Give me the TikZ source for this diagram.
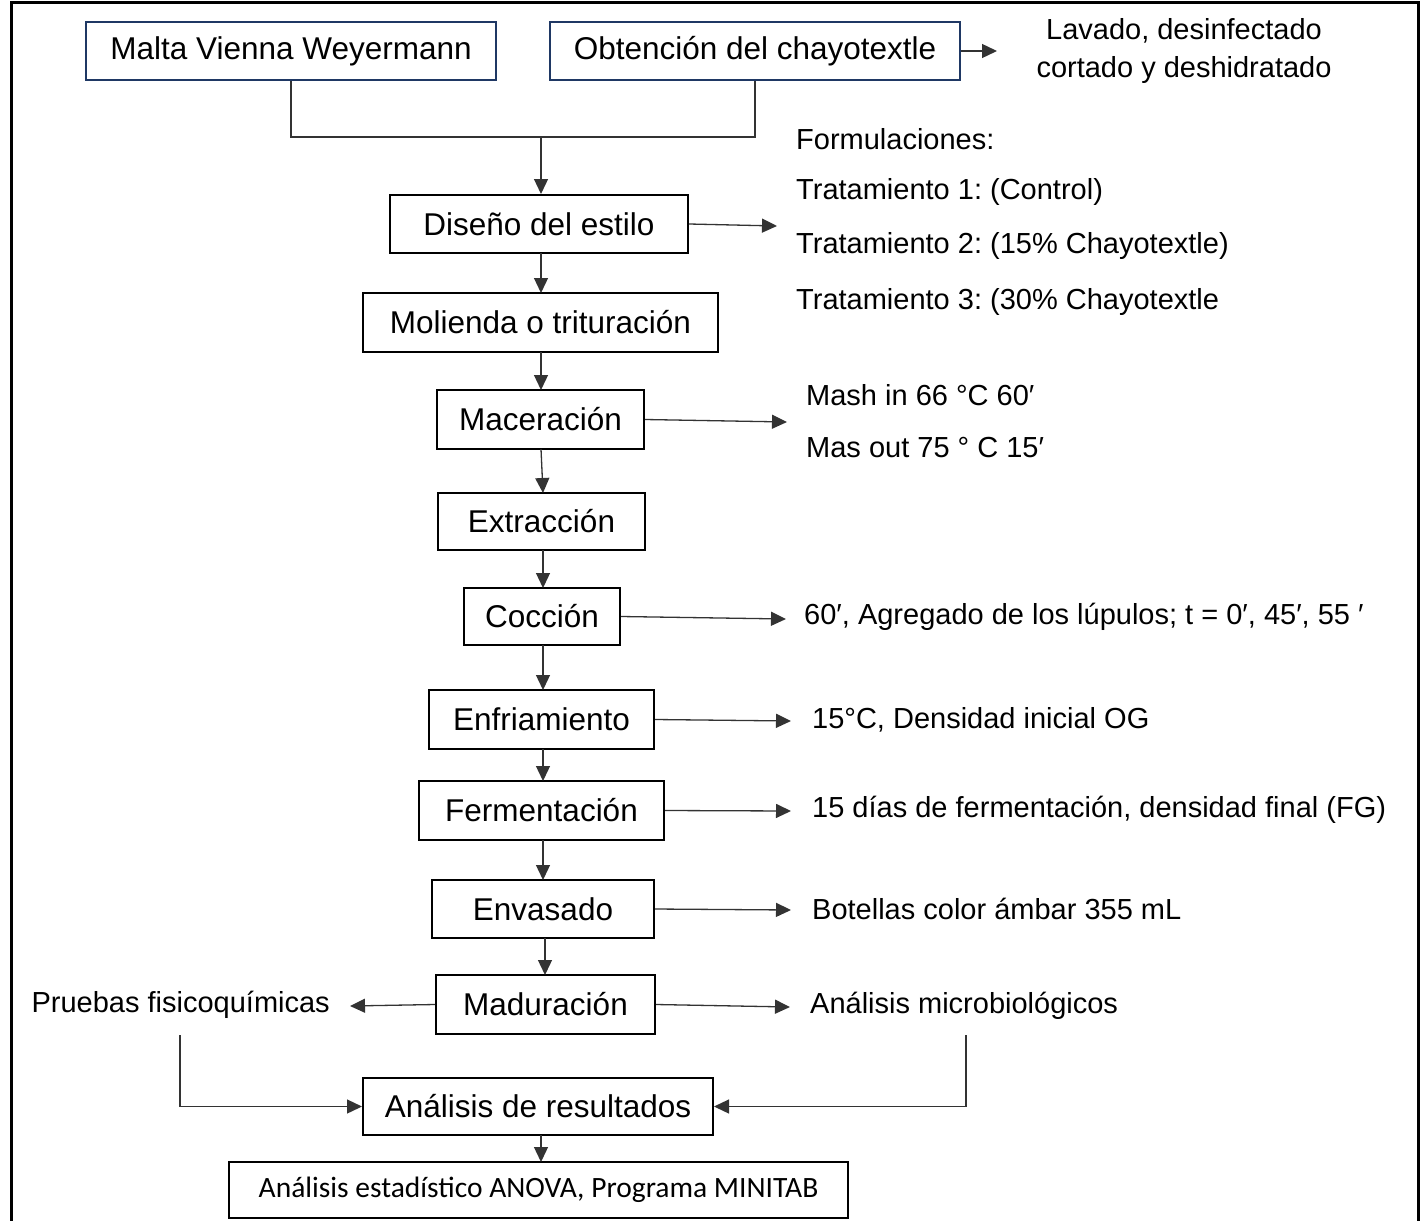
\documentclass[tikz,border=0pt]{standalone}
\usepackage{fontspec}
\setmainfont{Liberation Sans}
\newfontfamily\calfont{Carlito}
\usetikzlibrary{arrows.meta}
\definecolor{navy}{HTML}{1F3864}
\frenchspacing
\tikzset{
  box/.style={draw=black, line width=2pt, fill=white, inner sep=0pt, font=\fontsize{31.5}{38}\selectfont},
  topbox/.style={box, draw=navy},
  lbl/.style={inner sep=0pt, anchor=west, font=\fontsize{29}{38}\selectfont},
  conn/.style={line width=1.3pt, draw=black!80},
  arr/.style={conn, -{Triangle[length=15pt,width=14pt]}},
}
\begin{document}
\begin{tikzpicture}[x=1pt,y=-1pt]
\useasboundingbox (0,0) rectangle (1423,1220);
% frame
\draw[line width=3pt] (11,1230) -- (11,3) -- (1418,3) -- (1418,1230);

% boxes
\node[topbox, minimum width=410pt, minimum height=58pt] (malta) at (291,51) {Malta Vienna Weyermann};
\node[topbox, minimum width=410pt, minimum height=58pt] (obt) at (755,51) {Obtención del chayotextle};
\node[box, minimum width=298pt, minimum height=58pt] (dis) at (539,224) {Diseño del estilo};
\node[box, minimum width=355pt, minimum height=59pt] (mol) at (540.5,322.5) {Molienda o trituración};
\node[box, minimum width=207pt, minimum height=59pt] (mac) at (540.5,419.5) {Maceración};
\node[box, minimum width=207pt, minimum height=57pt] (ext) at (541.5,521.5) {Extracción};
\node[box, minimum width=156pt, minimum height=57pt] (coc) at (542,616.5) {Cocción};
\node[box, minimum width=225pt, minimum height=59pt] (enf) at (541.5,719.5) {Enfriamiento};
\node[box, minimum width=245pt, minimum height=59pt] (fer) at (541.5,810.5) {Fermentación};
\node[box, minimum width=222pt, minimum height=58pt] (env) at (543,909) {Envasado};
\node[box, minimum width=219pt, minimum height=59pt] (mad) at (545.5,1004.5) {Maduración};
\node[box, minimum width=350pt, minimum height=57pt] (res) at (538,1106.5) {Análisis de resultados};
\node[box, minimum width=619pt, minimum height=56pt, font=\calfont\fontsize{29.5}{34}\selectfont] (anova) at (538.5,1190) {Análisis estadístico ANOVA, Programa MINITAB};

% side texts
\node[align=center, inner sep=0pt, font=\fontsize{29}{38}\selectfont] (lav) at (1184,51) {Lavado, desinfectado\\cortado y deshidratado};
\node[lbl] (form) at (796,139) {Formulaciones:};
\node[lbl] (t1) at (796,192) {Tratamiento 1: (Control)};
\node[lbl] (t2) at (796,246) {Tratamiento 2: (15\% Chayotextle)};
\node[lbl] (t3) at (796,302) {Tratamiento 3: (30\% Chayotextle};
\node[lbl] (mash1) at (806,395) {Mash in 66 °C 60′};
\node[lbl] (mash2) at (806,448) {Mas out 75 ° C 15′};
\node[lbl] (cocl) at (804,617) {60′, Agregado de los lúpulos; t = 0′, 45′, 55 ′};
\node[lbl] (enfl) at (812,720) {15°C, Densidad inicial OG};
\node[lbl] (ferl) at (812,810) {15 días de fermentación, densidad final (FG)};
\node[lbl] (envl) at (812,909) {Botellas color ámbar 355 mL};
\node[lbl, anchor=east] (pru) at (330,1005) {Pruebas fisicoquímicas};
\node[lbl] (mic) at (810,1006) {Análisis microbiológicos};

% free ends
\coordinate (obtE) at (997,51);
\coordinate (disE) at (777,226);
\coordinate (macE) at (787,422);
\coordinate (cocE) at (786,619);
\coordinate (enfE) at (791,721);
\coordinate (ferE) at (791,811);
\coordinate (envE) at (791,910);
\coordinate (madW) at (350,1006);
\coordinate (madE) at (790,1007);
\coordinate (join) at (541,137);

% connectors
\draw[conn] (malta.south) |- (join) -| (obt.south);
\draw[arr] (join) -- (join |- dis.north);
\draw[arr] (obt.east) -- (obtE);
\draw[arr] (dis.east) -- (disE);
\draw[arr] (541,253) -- (541,293);
\draw[arr] (541,352) -- (541,390);
\draw[arr] (541,449) -- (543,493);
\draw[arr] (543,550) -- (543,588);
\draw[arr] (543,645) -- (543,690);
\draw[arr] (543,749) -- (543,781);
\draw[arr] (543,840) -- (543,880);
\draw[arr] (545,938) -- (545,975);
\draw[arr] (mac.east) -- (macE);
\draw[arr] (coc.east) -- (cocE);
\draw[arr] (enf.east) -- (enfE);
\draw[arr] (fer.east) -- (ferE);
\draw[arr] (env.east) -- (envE);
\draw[arr] (mad.west) -- (madW);
\draw[arr] (mad.east) -- (madE);
\draw[arr] (180,1035) |- (res.west);
\draw[arr] (966,1035) |- (res.east);
\draw[arr] (541,1135) -- (541,1162);
\end{tikzpicture}
\end{document}
